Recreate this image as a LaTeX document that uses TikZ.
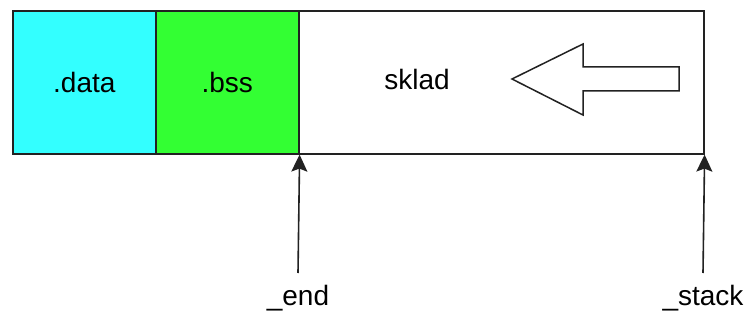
\documentclass[tikz,border=0pt]{standalone}
\usepackage{fontspec}
\setmainfont{Liberation Sans}
\usetikzlibrary{arrows.meta}
\definecolor{datacol}{HTML}{33FFFF}
\definecolor{bsscol}{HTML}{33FF33}
\definecolor{linecol}{HTML}{222222}
\tikzset{
  seg/.style={draw=linecol, line width=1.6pt, minimum height=143pt, inner sep=0pt, anchor=north west,
    font=\fontsize{28}{30}\selectfont},
  pointer/.style={draw=linecol, line width=1.6pt, -{Stealth[length=17pt,width=16pt,inset=3pt]}},
  lbl/.style={font=\fontsize{28}{30}\selectfont, inner sep=0pt},
}
\begin{document}
\begin{tikzpicture}[x=1pt,y=1pt]
\useasboundingbox (0,0) rectangle (745,322);
\node[seg, fill=datacol, minimum width=143pt] (data) at (12,312) {.data};
\node[seg, fill=bsscol, minimum width=143pt] (bss) at (155,312) {.bss};
\node[seg, fill=white, minimum width=405pt] (stack) at (298,312) {};
\node[lbl] (sklad) at (417,243) {sklad};
\draw[linecol, line width=1.5pt, line join=miter]
  (512,243) -- (583,278) -- (583,255) -- (679,255) -- (679,231) -- (583,231) -- (583,207) -- cycle;
\coordinate (endfoot) at (298,49);
\coordinate (stackfoot) at (703,49);
\draw[pointer] (endfoot) -- (bss.south east);
\draw[pointer] (stackfoot) -- (stack.south east);
\node[lbl, anchor=north] (endlbl) at (298,37) {\_end};
\node[lbl, anchor=north] (stacklbl) at (703,37) {\_stack};
\end{tikzpicture}
\end{document}
